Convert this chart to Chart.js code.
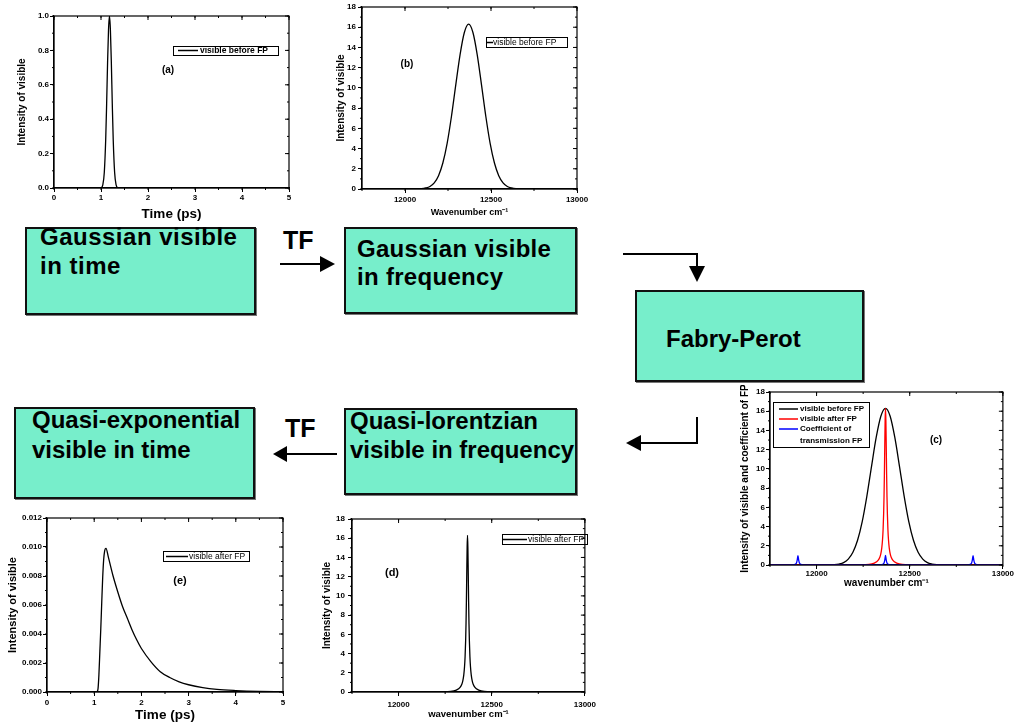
<!DOCTYPE html>
<html>
<head>
<meta charset="utf-8">
<script src="https://cdn.jsdelivr.net/npm/chart.js@4"></script>
<style>
body { margin:0; background:#fff; width:1014px; height:727px; position:relative; overflow:hidden; font-family:"Liberation Sans", Arial, sans-serif; }
.plot { position:absolute; }
.box { position:absolute; background:#77EECB; border:2px solid #111; box-sizing:border-box; box-shadow:1px 1px 0 #777; }
.txt { position:absolute; font-weight:bold; font-size:24px; line-height:24px; white-space:nowrap; color:#000; }
.tf { position:absolute; font-weight:bold; font-size:25px; line-height:25px; color:#000; }
svg { position:absolute; left:0; top:0; }
</style>
</head>
<body>

<div class="box" style="left:25px;top:227px;width:231px;height:88px"></div>
<div class="box" style="left:344px;top:227px;width:233px;height:87px"></div>
<div class="box" style="left:635px;top:290px;width:229px;height:92px"></div>
<div class="box" style="left:14px;top:407px;width:241px;height:92px"></div>
<div class="box" style="left:344px;top:408px;width:233px;height:87px"></div>

<div class="txt" style="left:40px;top:225px;letter-spacing:0.5px">Gaussian visible</div>
<div class="txt" style="left:40px;top:254px;letter-spacing:0.5px">in time</div>
<div class="txt" style="left:357px;top:237px;letter-spacing:0.3px">Gaussian visible</div>
<div class="txt" style="left:357px;top:265px;letter-spacing:0.3px">in frequency</div>
<div class="txt" style="left:666px;top:327px">Fabry-Perot</div>
<div class="txt" style="left:32px;top:408px">Quasi-exponential</div>
<div class="txt" style="left:32px;top:438px">visible in time</div>
<div class="txt" style="left:350px;top:409px">Quasi-lorentzian</div>
<div class="txt" style="left:350px;top:438px">visible in frequency</div>
<div class="tf" style="left:283px;top:228px">TF</div>
<div class="tf" style="left:285px;top:416px">TF</div>

<svg width="1014" height="727">
  <g stroke="#000" stroke-width="2" fill="none">
    <line x1="280" y1="264" x2="322" y2="264"/>
    <polyline points="623,254 697,254 697,268"/>
    <polyline points="697,417 697,443 640,443"/>
    <line x1="337" y1="454" x2="284" y2="454"/>
  </g>
  <g fill="#000">
    <polygon points="320,256 335,264 320,272"/>
    <polygon points="689,266 705,266 697,282"/>
    <polygon points="641,435 626,443 641,451"/>
    <polygon points="287,446 273,454 287,462"/>
  </g>
</svg>

<canvas id="plotA" class="plot" width="300" height="225" style="left:0;top:0;width:300px;height:225px"></canvas>
<canvas id="plotB" class="plot" width="280" height="222" style="left:320px;top:0;width:280px;height:222px"></canvas>
<canvas id="plotC" class="plot" width="284" height="205" style="left:730px;top:385px;width:284px;height:205px"></canvas>
<canvas id="plotD" class="plot" width="290" height="217" style="left:310px;top:510px;width:290px;height:217px"></canvas>
<canvas id="plotE" class="plot" width="300" height="217" style="left:0;top:510px;width:300px;height:217px"></canvas>

<script>
// (a) gaussian pulse in time
const timeA = [0, 1.00, 1.04, 1.07, 1.10, 1.12, 1.14, 1.16, 1.18, 1.20, 1.22, 1.24, 1.26, 1.29, 1.32, 1.36, 5];
const gaussTime = [0, 0.002, 0.02, 0.09, 0.28, 0.49, 0.73, 0.92, 1.00, 0.92, 0.73, 0.49, 0.28, 0.09, 0.02, 0.002, 0];

// (b), (c) gaussian spectrum
const waveG = [11750, 12070, 12095, 12120, 12145, 12170, 12195, 12220, 12245, 12270, 12295, 12320, 12345, 12370,
               12395, 12420, 12445, 12470, 12495, 12520, 12545, 12570, 12595, 12620, 12645, 12670, 13000];
const gaussFreq = [0, 0.01, 0.03, 0.10, 0.25, 0.61, 1.32, 2.57, 4.51, 7.17, 10.27, 13.27, 15.48, 16.3,
                   15.48, 13.27, 10.27, 7.17, 4.51, 2.57, 1.32, 0.61, 0.25, 0.10, 0.03, 0.01, 0];

// (c), (d) spectrum after the Fabry-Perot
const waveL = [11750, 12170, 12230, 12280, 12310, 12330, 12340, 12345, 12350, 12354, 12357, 12360, 12362, 12364, 12366, 12368,
               12370, 12372, 12374, 12376, 12378, 12380, 12383, 12386, 12390, 12395, 12400, 12410, 12430, 12460, 12510, 12570, 13000];
const lorentzFreq = [0, 0, 0.01, 0.05, 0.20, 0.48, 0.84, 1.18, 1.78, 2.62, 3.66, 5.36, 7.07, 9.40, 12.29, 15.07,
                     16.3, 15.07, 12.29, 9.40, 7.07, 5.36, 3.66, 2.62, 1.78, 1.18, 0.84, 0.48, 0.20, 0.05, 0.01, 0, 0];

// (c) transmission of the FP
const waveT = [11750, 11870, 11885, 11892, 11896, 11900, 11904, 11908, 11915, 11930,
               12340, 12355, 12362, 12366, 12370, 12374, 12378, 12385, 12400,
               12810, 12825, 12832, 12836, 12840, 12844, 12848, 12855, 12870, 13000];
const transFP = [0.01, 0.02, 0.06, 0.2, 0.5, 0.97, 0.5, 0.2, 0.06, 0.02,
                 0.02, 0.06, 0.2, 0.5, 1.0, 0.5, 0.2, 0.06, 0.02,
                 0.02, 0.06, 0.2, 0.5, 0.97, 0.5, 0.2, 0.06, 0.02, 0.01];

// (e) quasi-exponential pulse in time
const timeE = [0, 1.05, 1.08, 1.10, 1.12, 1.14, 1.16, 1.18, 1.20, 1.22, 1.25, 1.30, 1.40, 1.50, 1.60, 1.70, 1.80, 1.90,
               2.00, 2.20, 2.40, 2.60, 2.80, 3.00, 3.30, 3.60, 4.00, 4.50, 5.00];
const expDecay = [0, 0, 0.0002, 0.0012, 0.0028, 0.0044, 0.0062, 0.0079, 0.0091, 0.0097, 0.0099, 0.0093, 0.0080, 0.0069, 0.0059,
                  0.0051, 0.0043, 0.0036, 0.0030, 0.0021, 0.0014, 0.0010, 0.0007, 0.0005, 0.0003, 0.00018, 0.0001, 0.00004, 0.00001];

const waveTicks = [12000, 12500, 13000];

Chart.defaults.font.family = "'Liberation Sans', Arial, sans-serif";
Chart.defaults.color = '#000';

function pts(xs, ys) {
    return xs.map((x, i) => ({ x: x, y: ys[i] }));
}

function line(label, xs, ys, color, order) {
    return {
        label: label,
        data: pts(xs, ys),
        borderColor: color,
        borderWidth: 1.3,
        pointRadius: 0,
        fill: false,
        cubicInterpolationMode: 'monotone',
        order: order || 0
    };
}

// box, ticks on all four sides like the Origin plots
const frame = {
    id: 'frame',
    afterDraw(chart, args, o) {
        const ctx = chart.ctx, a = chart.chartArea;
        const xs = chart.scales.x, ys = chart.scales.y;
        ctx.save();
        ctx.strokeStyle = '#000';
        ctx.lineWidth = 1.2;
        ctx.strokeRect(a.left, a.top, a.right - a.left, a.bottom - a.top);
        ctx.lineWidth = 1;
        ctx.beginPath();
        xs.ticks.forEach(t => {
            const px = xs.getPixelForValue(t.value);
            ctx.moveTo(px, a.top); ctx.lineTo(px, a.top + 4);
        });
        ys.ticks.forEach(t => {
            const py = ys.getPixelForValue(t.value);
            ctx.moveTo(a.right, py); ctx.lineTo(a.right - 4, py);
        });
        for (let v = xs.min; v <= xs.max + 1e-9; v += o.xMinor) {
            const px = xs.getPixelForValue(v);
            ctx.moveTo(px, a.bottom); ctx.lineTo(px, a.bottom + 2);
            ctx.moveTo(px, a.top); ctx.lineTo(px, a.top + 2);
        }
        for (let v = ys.min; v <= ys.max + 1e-12; v += o.yMinor) {
            const py = ys.getPixelForValue(v);
            ctx.moveTo(a.left, py); ctx.lineTo(a.left - 2, py);
            ctx.moveTo(a.right, py); ctx.lineTo(a.right - 2, py);
        }
        ctx.stroke();
        ctx.restore();
    }
};

const boxLegend = {
    id: 'boxLegend',
    afterDraw(chart, args, o) {
        const ctx = chart.ctx;
        ctx.save();
        ctx.strokeStyle = '#000';
        ctx.lineWidth = 1;
        ctx.strokeRect(o.box[0] + 0.5, o.box[1] + 0.5, o.box[2], o.box[3]);
        ctx.font = o.font;
        ctx.textBaseline = 'middle';
        ctx.fillStyle = '#000';
        chart.data.datasets.forEach((ds, i) => {
            const y = o.rows[i];
            ctx.strokeStyle = ds.borderColor;
            ctx.lineWidth = 1.5;
            ctx.beginPath();
            ctx.moveTo(o.line[0], y);
            ctx.lineTo(o.line[1], y);
            ctx.stroke();
            String(ds.label).split('\n').forEach((t, k) => ctx.fillText(t, o.textX, y + k * (o.lead || 0)));
        });
        ctx.restore();
    }
};

const panelTag = {
    id: 'panelTag',
    afterDraw(chart, args, o) {
        const ctx = chart.ctx;
        ctx.save();
        ctx.font = o.font;
        ctx.fillStyle = '#000';
        ctx.textAlign = 'center';
        ctx.textBaseline = 'middle';
        ctx.fillText(o.text, o.at[0], o.at[1]);
        ctx.restore();
    }
};

function axisX(p) {
    const ax = {
        type: 'linear',
        min: p.xMin, max: p.xMax,
        afterFit: s => { s.height = p.xHeight; },
        grid: { drawOnChartArea: false, tickLength: 4, color: '#000' },
        border: { color: '#000', width: 1.2 },
        ticks: {
            font: { size: 8, weight: 'bold' },
            padding: p.xPad,
            maxRotation: 0,
            autoSkip: false,
            callback: v => String(v)
        },
        title: {
            display: true,
            text: p.xTitle,
            font: { size: p.xTitleSize, weight: 'bold' },
            padding: { top: 0, bottom: p.xTitlePad }
        }
    };
    if (p.xStep) ax.ticks.stepSize = p.xStep;
    if (p.xTicks) ax.afterBuildTicks = s => { s.ticks = p.xTicks.map(v => ({ value: v })); };
    return ax;
}

function axisY(p) {
    return {
        min: p.yMin, max: p.yMax,
        afterFit: s => { s.width = p.yWidth; },
        grid: { drawOnChartArea: false, tickLength: 4, color: '#000' },
        border: { color: '#000', width: 1.2 },
        ticks: {
            stepSize: p.yStep,
            font: { size: 8, weight: 'bold' },
            padding: p.yPad,
            callback: v => p.yDigits != null ? Number(v).toFixed(p.yDigits) : String(v)
        },
        title: {
            display: true,
            text: p.yTitle,
            font: { size: p.yTitleSize, weight: 'bold' },
            padding: { top: p.yTitlePad, bottom: 0 }
        }
    };
}

function makePlot(id, datasets, p) {
    return new Chart(document.getElementById(id), {
        type: 'line',
        data: { datasets: datasets },
        options: {
            responsive: false,
            animation: false,
            events: [],
            layout: { padding: { left: 0, top: p.top, right: p.right, bottom: 0 }, autoPadding: false },
            scales: { x: axisX(p), y: axisY(p) },
            plugins: {
                legend: { display: false },
                tooltip: { enabled: false },
                frame: { xMinor: p.xMinor, yMinor: p.yMinor },
                boxLegend: p.legend,
                panelTag: p.tag
            }
        },
        plugins: [frame, boxLegend, panelTag]
    });
}

makePlot('plotA', [line('visible before FP', timeA, gaussTime, '#000')], {
    top: 16, right: 11, xHeight: 37, yWidth: 54,
    xMin: 0, xMax: 5, xStep: 1, xMinor: 0.5, xPad: 1,
    yMin: 0, yMax: 1, yStep: 0.2, yMinor: 0.1, yPad: 1, yDigits: 1,
    xTitle: 'Time (ps)', xTitleSize: 13.5, xTitlePad: 3,
    yTitle: 'Intensity of visible', yTitleSize: 10, yTitlePad: 16,
    legend: { box: [173, 46, 105, 9], line: [178, 198], textX: 200, rows: [50.5], font: 'bold 8.5px "Liberation Sans", Arial' },
    tag: { text: '(a)', at: [168, 70], font: 'bold 10px "Liberation Sans", Arial' }
});

makePlot('plotB', [line('visible before FP', waveG, gaussFreq, '#000')], {
    top: 7, right: 23, xHeight: 33, yWidth: 42,
    xMin: 11750, xMax: 13000, xTicks: waveTicks, xMinor: 250, xPad: 2,
    yMin: 0, yMax: 18, yStep: 2, yMinor: 1, yPad: 2,
    xTitle: 'Wavenumber cm\u207B\u00B9', xTitleSize: 9, xTitlePad: 4,
    yTitle: 'Intensity of visible', yTitleSize: 10, yTitlePad: 15,
    legend: { box: [166, 37, 81, 10], line: [167, 173], textX: 173, rows: [42.5], font: '8.5px "Liberation Sans", Arial' },
    tag: { text: '(b)', at: [87, 64], font: 'bold 10px "Liberation Sans", Arial' }
});

makePlot('plotC', [
    line('visible before FP', waveG, gaussFreq, '#000', 2),
    line('visible after FP', waveL, lorentzFreq, '#FF0000', 1),
    line('Coefficient of\ntransmission FP', waveT, transFP, '#0000FF', 0)
], {
    top: 7, right: 9, xHeight: 25, yWidth: 40,
    xMin: 11750, xMax: 13000, xTicks: waveTicks, xMinor: 250, xPad: 0,
    yMin: 0, yMax: 18, yStep: 2, yMinor: 1, yPad: 1,
    xTitle: 'wavenumber cm\u207B\u00B9', xTitleSize: 10, xTitlePad: 1,
    yTitle: 'Intensity of visible and coefficient of FP', yTitleSize: 10, yTitlePad: 9,
    legend: { box: [43, 17, 96, 45], line: [49, 68], textX: 70, rows: [24, 34, 44], lead: 12, font: 'bold 8px "Liberation Sans", Arial' },
    tag: { text: '(c)', at: [206, 55], font: 'bold 10px "Liberation Sans", Arial' }
});

makePlot('plotD', [line('visible after FP', waveL, lorentzFreq, '#000')], {
    top: 9, right: 13, xHeight: 35, yWidth: 42,
    xMin: 11750, xMax: 13000, xTicks: waveTicks, xMinor: 250, xPad: 4,
    yMin: 0, yMax: 18, yStep: 2, yMinor: 1, yPad: 3,
    xTitle: 'wavenumber cm\u207B\u00B9', xTitleSize: 9.5, xTitlePad: 7,
    yTitle: 'Intensity of visible', yTitleSize: 10, yTitlePad: 11,
    legend: { box: [192, 24, 85, 10], line: [193, 217], textX: 218, rows: [29.5], font: '8.5px "Liberation Sans", Arial' },
    tag: { text: '(d)', at: [82, 63], font: 'bold 11px "Liberation Sans", Arial' }
});

makePlot('plotE', [line('visible after FP', timeE, expDecay, '#000')], {
    top: 8, right: 17, xHeight: 35, yWidth: 47,
    xMin: 0, xMax: 5, xStep: 1, xMinor: 0.5, xPad: 2,
    yMin: 0, yMax: 0.012, yStep: 0.002, yMinor: 0.001, yPad: 1, yDigits: 3,
    xTitle: 'Time (ps)', xTitleSize: 13.5, xTitlePad: 4,
    yTitle: 'Intensity of visible', yTitleSize: 11, yTitlePad: 6,
    legend: { box: [163, 41, 86, 10], line: [166, 188], textX: 189, rows: [46.5], font: '8.5px "Liberation Sans", Arial' },
    tag: { text: '(e)', at: [180, 71], font: 'bold 11px "Liberation Sans", Arial' }
});
</script>
</body>
</html>
